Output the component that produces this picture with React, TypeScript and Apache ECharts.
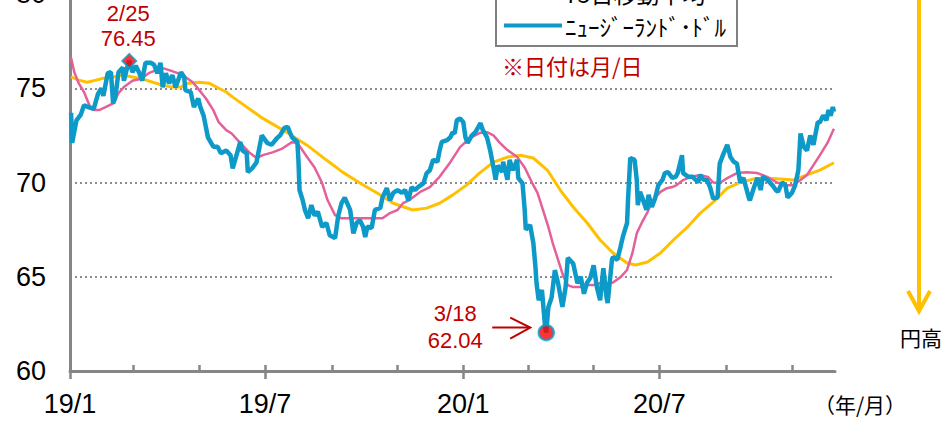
import React, { useEffect, useRef } from "react";
import * as echarts from "echarts";

// ---------- data ----------
const seriesNames = ["200日移動平均", "75日移動平均", "ﾆｭｰｼﾞｰﾗﾝﾄﾞ･ﾄﾞﾙ"];

const tickDates = [
  "2019-01-01", "2019-03-01", "2019-05-01", "2019-07-01", "2019-09-01", "2019-11-01",
  "2020-01-01", "2020-03-01", "2020-05-01", "2020-07-01", "2020-09-01", "2020-11-01",
];
const labelDates = ["2019-01-01", "2019-07-01", "2020-01-01", "2020-07-01"];
const tickLabels = ["19/1", "19/7", "20/1", "20/7"];
const axisStart = "2019-01-01";
const axisEnd = "2020-12-11";
const yMin = 60;
const yMax = 80;
const yStep = 5;

const nzdDates = [
  "2019-01-02","2019-01-03","2019-01-07","2019-01-11","2019-01-14","2019-01-18","2019-01-23","2019-01-27","2019-01-30","2019-02-01",
  "2019-02-05","2019-02-08","2019-02-10","2019-02-12","2019-02-15","2019-02-19","2019-02-20","2019-02-24","2019-02-25","2019-02-28",
  "2019-03-03","2019-03-06","2019-03-09","2019-03-12","2019-03-17","2019-03-20","2019-03-23","2019-03-26","2019-03-28","2019-03-31",
  "2019-04-03","2019-04-06","2019-04-09","2019-04-14","2019-04-17","2019-04-18","2019-04-23","2019-04-26","2019-04-30","2019-05-02",
  "2019-05-05","2019-05-09","2019-05-14","2019-05-18","2019-05-21","2019-05-26","2019-05-30","2019-06-01","2019-06-05","2019-06-08",
  "2019-06-10","2019-06-14","2019-06-15","2019-06-19","2019-06-23","2019-06-28","2019-07-03","2019-07-07","2019-07-12","2019-07-15",
  "2019-07-19","2019-07-22","2019-07-26","2019-07-31","2019-08-01","2019-08-02","2019-08-05","2019-08-07","2019-08-10","2019-08-13",
  "2019-08-16","2019-08-19","2019-08-23","2019-08-27","2019-08-30","2019-09-04","2019-09-07","2019-09-10","2019-09-13","2019-09-18",
  "2019-09-21","2019-09-24","2019-09-27","2019-09-30","2019-10-02","2019-10-04","2019-10-08","2019-10-11","2019-10-16","2019-10-18",
  "2019-10-22","2019-10-25","2019-10-28","2019-11-01","2019-11-05","2019-11-08","2019-11-11","2019-11-14","2019-11-17","2019-11-20",
  "2019-11-25","2019-11-28","2019-12-01","2019-12-04","2019-12-08","2019-12-10","2019-12-12","2019-12-17","2019-12-20","2019-12-22",
  "2019-12-24","2019-12-26","2019-12-29","2020-01-01","2020-01-03","2020-01-05","2020-01-09","2020-01-12","2020-01-17","2020-01-19",
  "2020-01-23","2020-01-26","2020-01-29","2020-01-31","2020-02-02","2020-02-06","2020-02-07","2020-02-11","2020-02-13","2020-02-16",
  "2020-02-20","2020-02-21","2020-02-25","2020-02-27","2020-02-28","2020-03-03","2020-03-06","2020-03-08","2020-03-09","2020-03-11",
  "2020-03-14","2020-03-17","2020-03-18","2020-03-20","2020-03-23","2020-03-26","2020-03-29","2020-04-02","2020-04-05","2020-04-07",
  "2020-04-12","2020-04-16","2020-04-19","2020-04-22","2020-04-25","2020-04-28","2020-05-01","2020-05-04","2020-05-07","2020-05-10",
  "2020-05-13","2020-05-14","2020-05-18","2020-05-19","2020-05-23","2020-05-26","2020-05-28","2020-06-01","2020-06-02","2020-06-04",
  "2020-06-08","2020-06-10","2020-06-11","2020-06-13","2020-06-16","2020-06-19","2020-06-21","2020-06-24","2020-06-27","2020-06-30",
  "2020-07-04","2020-07-06","2020-07-09","2020-07-13","2020-07-16","2020-07-18","2020-07-22","2020-07-23","2020-07-28","2020-08-01",
  "2020-08-06","2020-08-08","2020-08-11","2020-08-14","2020-08-17","2020-08-20","2020-08-24","2020-08-26","2020-08-29","2020-09-02",
  "2020-09-05","2020-09-08","2020-09-11","2020-09-14","2020-09-17","2020-09-22","2020-09-23","2020-09-26","2020-09-30","2020-10-03",
  "2020-10-05","2020-10-09","2020-10-14","2020-10-17","2020-10-19","2020-10-23","2020-10-26","2020-10-28","2020-11-01","2020-11-04",
  "2020-11-07","2020-11-09","2020-11-12","2020-11-15","2020-11-18","2020-11-21","2020-11-25","2020-11-27","2020-11-30","2020-12-03",
  "2020-12-05","2020-12-07","2020-12-09","2020-12-10",
];
const nzdValues = [
  73.7, 72.1, 73.3, 73.6, 74.1, 74.0, 73.9, 74.7, 75.0, 74.6,
  75.8, 75.85, 74.2, 74.5, 75.85, 76.1, 75.4, 76.3, 76.45, 75.85,
  76.2, 75.85, 75.4, 76.35, 76.35, 76.25, 75.8, 76.35, 75.05, 75.8,
  75.25, 75.7, 75.05, 75.85, 75.6, 74.9, 74.8, 74.0, 74.45, 74.0,
  73.55, 72.4, 71.9, 71.9, 71.55, 71.7, 71.45, 70.75, 71.55, 72.15,
  71.7, 71.55, 70.55, 70.75, 71.05, 72.5, 72.1, 72.0, 72.35, 72.5,
  72.9, 72.95, 72.4, 72.15, 71.2, 69.6, 69.05, 68.55, 68.1, 68.8,
  68.25, 68.45, 67.65, 67.85, 67.2, 67.05, 68.25, 68.9, 69.2, 68.55,
  67.3, 67.85, 68.0, 67.65, 67.1, 67.65, 67.6, 68.55, 68.65, 69.2,
  69.7, 69.05, 69.45, 69.6, 69.45, 69.6, 69.05, 69.75, 69.6, 69.75,
  69.95, 70.5, 70.65, 71.2, 71.1, 71.7, 72.15, 72.25, 72.4, 72.65,
  72.6, 73.3, 73.4, 73.2, 72.4, 72.1, 72.5, 72.65, 73.15, 72.8,
  72.4, 71.7, 70.8, 70.15, 70.9, 70.55, 71.1, 70.15, 71.2, 70.65,
  71.2, 70.25, 69.95, 68.55, 67.5, 67.75, 66.8, 65.5, 64.65, 63.75,
  64.3, 62.3, 62.04, 63.4, 63.9, 65.35, 64.65, 63.4, 64.45, 66.0,
  65.7, 64.65, 65.0, 64.1, 64.7, 64.95, 65.6, 64.45, 63.75, 65.45,
  63.9, 63.6, 65.9, 66.05, 65.9, 66.6, 67.1, 67.85, 69.2, 71.3,
  71.2, 70.15, 68.8, 69.5, 69.05, 68.55, 69.35, 68.7, 69.15, 69.85,
  70.15, 70.5, 70.55, 70.25, 70.3, 70.5, 71.45, 70.5, 70.3, 70.3,
  70.0, 70.4, 70.15, 70.15, 69.75, 69.15, 69.2, 71.0, 71.45, 72.0,
  71.35, 71.1, 71.0, 70.0, 70.25, 69.2, 69.05, 69.6, 70.25, 69.6,
  70.3, 70.15, 69.85, 69.6, 69.5, 70.0, 69.85, 69.2, 69.45, 69.85,
  70.65, 72.6, 71.9, 71.7, 72.5, 72.0, 73.2, 73.2, 73.55, 73.3,
  73.85, 73.55, 74.0, 73.75,
];

const ma75Dates = [
  "2019-01-02","2019-01-05","2019-01-09","2019-01-14","2019-01-19","2019-01-23","2019-01-28","2019-02-03","2019-02-10","2019-02-15",
  "2019-02-20","2019-02-28","2019-03-08","2019-03-15","2019-03-22","2019-03-28","2019-04-03","2019-04-11","2019-04-18","2019-04-25",
  "2019-05-01","2019-05-07","2019-05-14","2019-05-19","2019-05-26","2019-05-31","2019-06-08","2019-06-17","2019-06-23","2019-06-29",
  "2019-07-08","2019-07-17","2019-07-26","2019-07-31","2019-08-09","2019-08-16","2019-08-23","2019-08-28","2019-09-04","2019-09-10",
  "2019-09-21","2019-09-30","2019-10-09","2019-10-18","2019-10-25","2019-11-01","2019-11-06","2019-11-12","2019-11-22","2019-12-01",
  "2019-12-10","2019-12-20","2019-12-29","2020-01-07","2020-01-16","2020-01-23","2020-01-29","2020-02-04","2020-02-11","2020-02-20",
  "2020-02-27","2020-03-05","2020-03-10","2020-03-15","2020-03-20","2020-03-24","2020-03-29","2020-04-03","2020-04-07","2020-04-12",
  "2020-04-18","2020-04-25","2020-05-01","2020-05-07","2020-05-13","2020-05-19","2020-05-26","2020-06-01","2020-06-06","2020-06-10",
  "2020-06-15","2020-06-20","2020-06-25","2020-07-02","2020-07-08","2020-07-13","2020-07-17","2020-07-23","2020-07-30","2020-08-08",
  "2020-08-15","2020-08-20","2020-08-26","2020-09-02","2020-09-11","2020-09-20","2020-09-30","2020-10-09","2020-10-18","2020-10-28",
  "2020-11-02","2020-11-09","2020-11-15","2020-11-21","2020-11-27","2020-12-04","2020-12-10",
];
const ma75Values = [
  76.6, 75.85, 75.27, 74.8, 74.1, 73.84, 73.84, 74.0, 74.2, 74.74,
  75.06, 75.4, 75.5, 75.8, 75.96, 76.07, 75.96, 75.8, 75.6, 75.32,
  74.9, 74.47, 73.84, 73.2, 72.78, 72.6, 72.1, 71.56, 71.3, 71.45,
  71.6, 71.8, 72.14, 72.1, 71.35, 70.8, 69.97, 69.07, 68.27, 68.1,
  68.1, 68.1, 68.1, 68.1, 68.38, 68.54, 68.9, 69.07, 69.5, 69.76,
  70.3, 71.08, 71.88, 72.35, 72.62, 72.67, 72.5, 72.1, 71.72, 71.35,
  70.8, 69.97, 69.44, 68.54, 67.63, 66.79, 65.9, 65.0, 64.56, 64.45,
  64.45, 64.56, 64.56, 64.66, 64.66, 64.7, 64.98, 65.36, 66.26, 67.3,
  67.9, 68.43, 69.07, 69.5, 69.7, 69.76, 69.86, 70.13, 70.3, 70.4,
  70.3, 70.0, 69.97, 70.23, 70.5, 70.55, 70.5, 70.3, 70.0, 69.86,
  69.86, 70.13, 70.4, 70.92, 71.45, 72.1, 72.85,
];

const ma200Dates = [
  "2019-01-02","2019-01-09","2019-01-17","2019-01-25","2019-02-01","2019-02-10","2019-02-19","2019-02-28","2019-03-09","2019-03-19",
  "2019-03-28","2019-04-06","2019-04-14","2019-04-21","2019-05-01","2019-05-10","2019-05-19","2019-05-26","2019-06-01","2019-06-05",
  "2019-06-29","2019-07-21","2019-08-09","2019-08-27","2019-09-11","2019-09-27","2019-10-13","2019-10-28","2019-11-15","2019-11-28",
  "2019-12-10","2019-12-22","2020-01-04","2020-01-16","2020-01-29","2020-02-11","2020-02-23","2020-03-06","2020-03-19","2020-03-31",
  "2020-04-12","2020-04-25","2020-05-07","2020-05-19","2020-06-01","2020-06-09","2020-06-20","2020-07-02","2020-07-14","2020-07-27",
  "2020-08-08","2020-08-20","2020-09-02","2020-09-14","2020-09-26","2020-10-09","2020-10-21","2020-11-02","2020-11-15","2020-11-27",
  "2020-12-10",
];
const ma200Values = [
  75.6, 75.43, 75.32, 75.43, 75.53, 75.6, 75.7, 75.6, 75.5, 75.32,
  75.16, 75.06, 75.06, 75.27, 75.32, 75.27, 75.0, 74.8, 74.53, 74.37,
  73.4, 72.67, 71.98, 71.19, 70.55, 69.97, 69.44, 68.9, 68.54, 68.64,
  68.9, 69.33, 69.86, 70.5, 71.08, 71.35, 71.45, 71.3, 70.66, 69.6,
  68.7, 67.85, 66.95, 66.26, 65.73, 65.62, 65.78, 66.26, 66.95, 67.63,
  68.38, 68.96, 69.7, 70.0, 70.18, 70.23, 70.18, 70.13, 70.4, 70.66,
  71.05,
];

const peakDate = "2019-02-25";
const peakValue = 76.45;
const peakLabel = "2/25";
const lowDate = "2020-03-18";
const lowValue = 62.04;
const lowLabel = "3/18";

const noteText = "※日付は月/日";
const unitText = "（年/月）";
const yenText = "円高";

// ---------- styles ----------
const BLUE = "#0E9AC8";
const PINK = "#E5609A";
const YELLOW = "#FFC000";
const RED_TEXT = "#C00000";
const AXIS_GRAY = "#868686";
const LATIN = '"Liberation Sans", Arial, "Noto Sans CJK JP", sans-serif';
const CJK = '"Noto Sans CJK JP", "Liberation Sans", sans-serif';

const BASE = Date.UTC(2019, 0, 1);
const dayIndex = (s: string) => {
  const [y, m, d] = s.split("-").map(Number);
  return (Date.UTC(y, m - 1, d) - BASE) / 86400000;
};
const pairs = (dates: string[], vals: number[]) => dates.map((d, i) => [dayIndex(d), vals[i]]);

export default function App() {
  const ref = useRef<HTMLDivElement>(null);

  useEffect(() => {
    if (!ref.current) return;
    const chart = echarts.init(ref.current, undefined, { renderer: "svg" });
    const xMin = dayIndex(axisStart);
    const xMax = dayIndex(axisEnd);
    const labelDays = labelDates.map(dayIndex);

    const option: any = {
      animation: false,
      grid: { left: 70, top: -6, width: 765, height: 377, containLabel: false, outerBoundsMode: "none" },
      legend: {
        orient: "vertical",
        left: 496,
        top: -58,
        data: seriesNames,
        icon: "rect",
        itemWidth: 58,
        itemHeight: 4,
        itemGap: 10,
        padding: [6, 11, 9, 8],
        borderColor: "#808080",
        borderWidth: 2,
        backgroundColor: "#fff",
        textStyle: { fontFamily: CJK, fontSize: 23, color: "#000", padding: [0, 0, 0, -2] },
      },
      xAxis: [
        {
          type: "value",
          min: xMin,
          max: xMax,
          axisLine: { show: true, lineStyle: { color: AXIS_GRAY, width: 3 } },
          axisTick: {
            show: true,
            inside: true,
            length: 6,
            customValues: tickDates.map(dayIndex),
            lineStyle: { color: AXIS_GRAY, width: 2.5 },
          },
          axisLabel: {
            show: true,
            customValues: labelDays,
            margin: 19,
            fontFamily: LATIN,
            fontSize: 27,
            color: "#000",
            formatter: (v: number) => {
              const i = labelDays.findIndex((d) => Math.abs(d - v) < 0.5);
              return i >= 0 ? tickLabels[i] : "";
            },
          },
          splitLine: { show: false },
        },
        {
          type: "value",
          min: xMin,
          max: xMax,
          position: "bottom",
          axisLine: { show: false },
          axisTick: {
            show: true,
            inside: false,
            length: 8,
            customValues: labelDays,
            lineStyle: { color: AXIS_GRAY, width: 2.5 },
          },
          axisLabel: { show: false },
          splitLine: { show: false },
        },
      ],
      yAxis: {
        type: "value",
        min: yMin,
        max: yMax,
        interval: yStep,
        axisLine: { show: true, lineStyle: { color: AXIS_GRAY, width: 3 } },
        axisTick: { show: false },
        axisLabel: { margin: 24, fontFamily: LATIN, fontSize: 27, color: "#000" },
        splitLine: { show: true, lineStyle: { color: "#8c8c8c", width: 2, type: [2, 3] } },
      },
      series: [
        {
          name: seriesNames[0],
          type: "line",
          symbol: "none",
          data: pairs(ma200Dates, ma200Values),
          lineStyle: { color: YELLOW, width: 3 },
          itemStyle: { color: YELLOW },
          z: 2,
        },
        {
          name: seriesNames[1],
          type: "line",
          symbol: "none",
          data: pairs(ma75Dates, ma75Values),
          lineStyle: { color: PINK, width: 2.5 },
          itemStyle: { color: PINK },
          z: 3,
        },
        {
          name: seriesNames[2],
          type: "line",
          symbol: "none",
          data: pairs(nzdDates, nzdValues),
          lineStyle: { color: BLUE, width: 4.5 },
          itemStyle: { color: BLUE },
          z: 4,
        },
        {
          name: "peak",
          type: "scatter",
          symbol: "diamond",
          symbolSize: 14,
          data: [[dayIndex(peakDate), peakValue]],
          itemStyle: { color: "#FF0000", borderColor: BLUE, borderWidth: 2 },
          z: 6,
        },
        {
          name: "low",
          type: "scatter",
          symbol: "circle",
          symbolSize: 15,
          data: [[dayIndex(lowDate), lowValue]],
          itemStyle: { color: "#FF0000", borderColor: BLUE, borderWidth: 2.5 },
          z: 6,
        },
      ],
    };
    chart.setOption(option);

    const [px, py] = chart.convertToPixel({ xAxisIndex: 0, yAxisIndex: 0 }, [dayIndex(peakDate), peakValue]) as number[];
    const [lx, ly] = chart.convertToPixel({ xAxisIndex: 0, yAxisIndex: 0 }, [dayIndex(lowDate), lowValue]) as number[];
    const redText = (text: string, x: number, y: number) => ({
      type: "text",
      x,
      y,
      style: { text, fill: RED_TEXT, font: `22px ${LATIN}`, align: "center", verticalAlign: "middle" },
      z: 10,
    });

    chart.setOption({
      graphic: [
        redText(peakLabel, px - 1, py - 47),
        redText(String(peakValue), px - 1, py - 22),
        redText(lowLabel, lx - 91, ly - 19),
        redText(lowValue.toFixed(2), lx - 91, ly + 8),
        {
          type: "line",
          shape: { x1: lx - 54, y1: ly - 5, x2: lx - 16, y2: ly - 5 },
          style: { stroke: RED_TEXT, lineWidth: 2 },
          z: 10,
        },
        {
          type: "polyline",
          shape: { points: [[lx - 36, ly - 15], [lx - 16, ly - 5], [lx - 36, ly + 6]] },
          style: { stroke: RED_TEXT, lineWidth: 2, fill: "none" },
          z: 10,
        },
        {
          type: "text",
          x: 502,
          y: 65,
          style: { text: noteText, fill: RED_TEXT, font: `22px ${CJK}`, align: "left", verticalAlign: "middle" },
          z: 10,
        },
        {
          type: "text",
          x: 860,
          y: 404,
          style: { text: unitText, fill: "#000", font: `21px ${CJK}`, align: "center", verticalAlign: "middle" },
          z: 10,
        },
        {
          type: "line",
          shape: { x1: 919, y1: 0, x2: 919, y2: 311 },
          style: { stroke: YELLOW, lineWidth: 4 },
          z: 10,
        },
        {
          type: "polyline",
          shape: { points: [[908, 291], [919, 311], [930, 291]] },
          style: { stroke: YELLOW, lineWidth: 4, fill: "none" },
          z: 10,
        },
        {
          type: "text",
          x: 921,
          y: 337,
          style: { text: yenText, fill: "#000", font: `21px ${CJK}`, align: "center", verticalAlign: "middle" },
          z: 10,
        },
      ],
    });

    return () => chart.dispose();
  }, []);

  return (
    <div
      ref={ref}
      style={{ position: "fixed", left: 0, top: 0, width: 944, height: 428, background: "#fff" }}
    />
  );
}
